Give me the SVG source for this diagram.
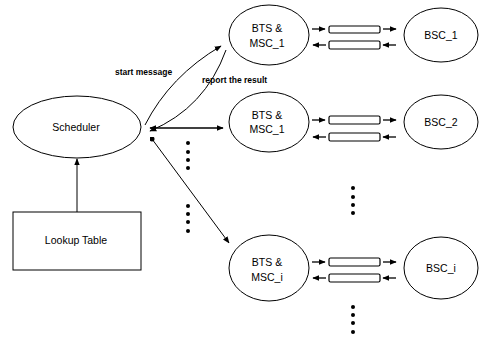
<svg xmlns="http://www.w3.org/2000/svg" width="489" height="339" viewBox="0 0 489 339">
<style>
.sh{fill:none;stroke:#000;stroke-width:1}
.t{font-family:"Liberation Sans",Arial,sans-serif;font-size:10.5px;fill:#000;text-anchor:middle}
.lb{font-family:"Liberation Sans",Arial,sans-serif;font-size:8.5px;font-weight:bold;fill:#000}
.c{fill:none;stroke:#000;stroke-width:1}
.bar{fill:#fff;stroke:#000;stroke-width:1.2}
.sa{fill:none;stroke:#000;stroke-width:1.3}
.d{fill:#000}
</style>
<defs>
<marker id="ah" viewBox="0 0 10 10" refX="9" refY="5" markerWidth="7" markerHeight="7" markerUnits="userSpaceOnUse" orient="auto-start-reverse">
<path d="M0,1 L10,5 L0,9 Z" fill="#000"/>
</marker>
<marker id="dot" viewBox="0 0 10 10" refX="5" refY="5" markerWidth="5" markerHeight="5" markerUnits="userSpaceOnUse">
<circle cx="5" cy="5" r="5" fill="#000"/>
</marker>
</defs>
<rect width="489" height="339" fill="#fff"/>
<g id="scheduler"><ellipse class="sh" cx="77" cy="127" rx="64" ry="31"/><text class="t" x="76" y="131">Scheduler</text></g>
<g id="lookup"><rect class="sh" x="13" y="212" width="128" height="58"/><text class="t" x="76" y="244">Lookup Table</text></g>
<g id="bts1"><ellipse class="sh" cx="269" cy="35" rx="40" ry="30"/><text class="t" x="267" y="32">BTS &amp;</text><text class="t" x="267" y="47">MSC_1</text></g>
<g id="bts2"><ellipse class="sh" cx="269" cy="122" rx="40" ry="30"/><text class="t" x="267" y="119">BTS &amp;</text><text class="t" x="267" y="133">MSC_1</text></g>
<g id="btsi"><ellipse class="sh" cx="269" cy="268" rx="40" ry="33"/><text class="t" x="267" y="266">BTS &amp;</text><text class="t" x="267" y="281">MSC_i</text></g>
<g id="bsc1"><ellipse class="sh" cx="441" cy="35" rx="37" ry="27"/><text class="t" x="441" y="39">BSC_1</text></g>
<g id="bsc2"><ellipse class="sh" cx="441" cy="122" rx="37" ry="27"/><text class="t" x="441" y="126">BSC_2</text></g>
<g id="bsci"><ellipse class="sh" cx="441" cy="268" rx="37" ry="31"/><text class="t" x="441" y="272">BSC_i</text></g>
<g id="queues">
<rect class="bar" x="329" y="26" width="51" height="7" rx="1.5"/>
<rect class="bar" x="329" y="41" width="51" height="8" rx="1.5"/>
<rect class="bar" x="329" y="116" width="51" height="8" rx="1.5"/>
<rect class="bar" x="329" y="133" width="51" height="8" rx="1.5"/>
<rect class="bar" x="329" y="258" width="51" height="8" rx="1.5"/>
<rect class="bar" x="329" y="274" width="51" height="8" rx="1.5"/>
</g>
<g id="connectors">
<line class="c" x1="77" y1="212" x2="77" y2="159" marker-end="url(#ah)"/>
<path class="c" d="M145,125 Q170,76 221,46" marker-end="url(#ah)"/>
<path class="c" d="M226,50 Q205,108 150,131" marker-end="url(#ah)"/>
<line class="sa" x1="150" y1="128" x2="223" y2="128" marker-start="url(#ah)" marker-end="url(#ah)"/>
<line class="c" x1="152" y1="139" x2="229" y2="243" marker-start="url(#dot)" marker-end="url(#ah)"/>
<line class="sa" x1="312" y1="29" x2="325" y2="29" marker-end="url(#ah)"/>
<line class="sa" x1="383" y1="29" x2="396" y2="29" marker-end="url(#ah)"/>
<line class="sa" x1="326" y1="45" x2="313" y2="45" marker-end="url(#ah)"/>
<line class="sa" x1="396" y1="45" x2="383" y2="45" marker-end="url(#ah)"/>
<line class="sa" x1="312" y1="120" x2="325" y2="120" marker-end="url(#ah)"/>
<line class="sa" x1="383" y1="120" x2="396" y2="120" marker-end="url(#ah)"/>
<line class="sa" x1="326" y1="137" x2="313" y2="137" marker-end="url(#ah)"/>
<line class="sa" x1="396" y1="137" x2="383" y2="137" marker-end="url(#ah)"/>
<line class="sa" x1="312" y1="262" x2="325" y2="262" marker-end="url(#ah)"/>
<line class="sa" x1="383" y1="262" x2="396" y2="262" marker-end="url(#ah)"/>
<line class="sa" x1="326" y1="278" x2="313" y2="278" marker-end="url(#ah)"/>
<line class="sa" x1="396" y1="278" x2="383" y2="278" marker-end="url(#ah)"/>
</g>
<g id="labels">
<text class="lb" x="115" y="75">start message</text>
<text class="lb" x="202" y="83">report the result</text>
</g>
<g id="ellipsis">
<circle class="d" cx="188" cy="143" r="2"/><circle class="d" cx="188" cy="152" r="2"/><circle class="d" cx="188" cy="160" r="2"/><circle class="d" cx="188" cy="168" r="2"/>
<circle class="d" cx="188" cy="206" r="2"/><circle class="d" cx="188" cy="214" r="2"/><circle class="d" cx="188" cy="222" r="2"/><circle class="d" cx="188" cy="231" r="2"/>
<circle class="d" cx="353" cy="188" r="2"/><circle class="d" cx="353" cy="197" r="2"/><circle class="d" cx="353" cy="205" r="2"/><circle class="d" cx="353" cy="213" r="2"/>
<circle class="d" cx="353" cy="307" r="2"/><circle class="d" cx="353" cy="315" r="2"/><circle class="d" cx="353" cy="323" r="2"/><circle class="d" cx="353" cy="332" r="2"/>
</g>
</svg>
